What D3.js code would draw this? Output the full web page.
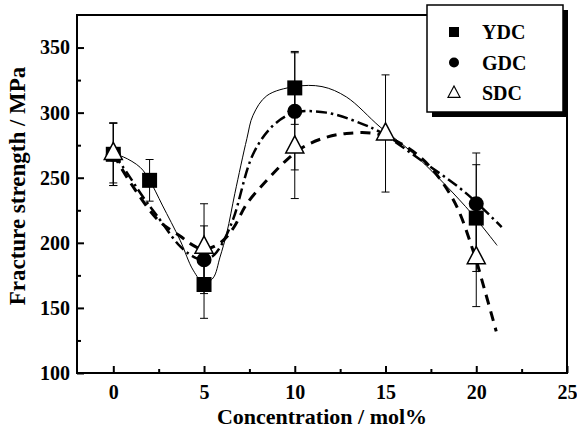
<!DOCTYPE html>
<meta charset="utf-8">
<script src="https://d3js.org/d3.v7.min.js"></script>
<style>
  body { margin: 0; background: #fff; }
  text { font-family: "Liberation Serif", "Times New Roman", serif; font-weight: bold; }
</style>
<div id="chart"></div>
<script>
// measured points (concentration mol%, strength MPa, +/- error)
var ydcX = [0, 2, 5, 10, 20],
    ydcY = [268, 248, 168, 319, 219],
    ydcErr = [24, 16, 26, 28, 41];
var gdcX = [0, 5, 10, 20],
    gdcY = [268, 187, 301, 230],
    gdcErr = [24, 26, 45, 39];
var sdcX = [0, 5, 10, 15, 20],
    sdcY = [269, 197, 274, 284, 189],
    sdcErr = [23, 33, 40, 45, 38];

// fitted guide curves
var ydcFitX = [0, 0.55, 1.48, 2, 2.7, 3.68, 4.4, 5, 5.5, 5.88, 6.26, 6.7, 7.36, 7.7, 8.46, 10, 11.5, 12.85, 14.7, 16.5, 19.4, 21.15],
    ydcFitY = [268, 266, 258, 248, 229, 202, 179, 169, 173, 189, 208, 238, 280, 298, 313, 320, 320, 312, 289, 269, 228, 198];
var gdcFitX = [0, 0.5, 1.65, 2.4, 3.7, 4.6, 5, 5.5, 5.9, 6.6, 7.7, 8.8, 10, 11.75, 13.6, 14.7, 16.9, 19.45, 21.4],
    gdcFitY = [268, 259, 235, 221, 197, 188, 187, 190, 197, 218, 268, 290, 300, 300, 292, 285, 264, 238, 212];
var sdcFitX = [0, 1, 2.5, 3.7, 4.4, 5, 5.9, 6.6, 7.36, 8.46, 9.5, 10.4, 11.5, 12.85, 14.7, 16.9, 18.7, 19.8, 20.5, 21.1],
    sdcFitY = [268, 245, 217, 205, 198, 195, 200, 211, 230, 248, 263, 273, 280, 284, 283, 266, 234, 195, 162, 132];

var xMajor = [0, 5, 10, 15, 20, 25],
    xMinor = [2.5, 7.5, 12.5, 17.5, 22.5],
    yMajor = [100, 150, 200, 250, 300, 350],
    yMinor = [125, 175, 225, 275, 325];

var legendNames = ["YDC", "GDC", "SDC"];

var W = 577, H = 431;
var margin = {top: 15, right: 10, bottom: 58, left: 77},
    width = W - margin.left - margin.right,
    height = H - margin.top - margin.bottom;

var svg = d3.select("#chart").append("svg")
    .attr("width", W).attr("height", H);
var g = svg.append("g")
    .attr("transform", "translate(" + margin.left + "," + margin.top + ")");

var x = d3.scaleLinear().domain([-2, 25]).range([0, width]);
var y = d3.scaleLinear().domain([100, 375]).range([height, 0]);

// axes, ticks pointing inward
g.append("g")
    .attr("transform", "translate(0," + height + ")")
    .call(d3.axisBottom(x).tickValues(xMajor).tickSize(-7).tickPadding(12).tickFormat(d3.format("d")));
g.append("g")
    .attr("transform", "translate(0," + height + ")")
    .call(d3.axisBottom(x).tickValues(xMinor).tickSize(-4).tickFormat(""));
g.append("g")
    .call(d3.axisLeft(y).tickValues(yMajor).tickSize(-7).tickPadding(7).tickFormat(d3.format("d")));
g.append("g")
    .call(d3.axisLeft(y).tickValues(yMinor).tickSize(-4).tickFormat(""));

g.selectAll(".domain").remove();
g.selectAll(".tick line").attr("stroke", "#000").attr("stroke-width", 2);
g.selectAll(".tick text").attr("fill", "#000").style("font-size", "20px")
    .style("font-family", "'Liberation Serif', serif").style("font-weight", "bold");

// frame
g.append("rect")
    .attr("width", width).attr("height", height)
    .attr("fill", "none").attr("stroke", "#000").attr("stroke-width", 2);

// curves
function fit(xs, ys) {
  return xs.map(function(d, i) { return [d, ys[i]]; });
}
var line = d3.line()
    .x(function(d) { return x(d[0]); })
    .y(function(d) { return y(d[1]); })
    .curve(d3.curveCatmullRom.alpha(0.5));

g.append("path").datum(fit(ydcFitX, ydcFitY))
    .attr("d", line).attr("fill", "none").attr("stroke", "#000").attr("stroke-width", 1);
g.append("path").datum(fit(gdcFitX, gdcFitY))
    .attr("d", line).attr("fill", "none").attr("stroke", "#000").attr("stroke-width", 2.5)
    .attr("stroke-dasharray", "11,4,2.5,4");
g.append("path").datum(fit(sdcFitX, sdcFitY))
    .attr("d", line).attr("fill", "none").attr("stroke", "#000").attr("stroke-width", 3)
    .attr("stroke-dasharray", "10,7");

// error bars
function errBars(xs, ys, es) {
  var grp = g.append("g").attr("stroke", "#000").attr("stroke-width", 1);
  xs.forEach(function(d, i) {
    var cx = x(d), y1 = y(ys[i] + es[i]), y2 = y(ys[i] - es[i]);
    grp.append("line").attr("x1", cx).attr("x2", cx).attr("y1", y1).attr("y2", y2);
    grp.append("line").attr("x1", cx - 4).attr("x2", cx + 4).attr("y1", y1).attr("y2", y1);
    grp.append("line").attr("x1", cx - 4).attr("x2", cx + 4).attr("y1", y2).attr("y2", y2);
  });
}
errBars(ydcX, ydcY, ydcErr);
errBars(gdcX, gdcY, gdcErr);
errBars(sdcX, sdcY, sdcErr);

// markers
var sq = d3.symbol().type(d3.symbolSquare).size(225);
var ci = d3.symbol().type(d3.symbolCircle).size(Math.PI * 7.5 * 7.5);
var tri = function(s) {
  var h = s * 0.95;
  return "M0," + (-h * 0.62) + "L" + (s / 2) + "," + (h * 0.38) + "L" + (-s / 2) + "," + (h * 0.38) + "Z";
};

g.selectAll(".ydc").data(ydcX).enter().append("path")
    .attr("transform", function(d, i) { return "translate(" + x(d) + "," + y(ydcY[i]) + ")"; })
    .attr("d", sq).attr("fill", "#000");
g.selectAll(".gdc").data(gdcX).enter().append("path")
    .attr("transform", function(d, i) { return "translate(" + x(d) + "," + y(gdcY[i]) + ")"; })
    .attr("d", ci).attr("fill", "#000");
g.selectAll(".sdc").data(sdcX).enter().append("path")
    .attr("transform", function(d, i) { return "translate(" + x(d) + "," + y(sdcY[i]) + ")"; })
    .attr("d", tri(18)).attr("fill", "#fff").attr("stroke", "#000").attr("stroke-width", 1.5);

// axis titles
svg.append("text")
    .attr("x", margin.left + width / 2).attr("y", 424)
    .attr("text-anchor", "middle").style("font-size", "22px")
    .text("Concentration / mol%");
svg.append("text")
    .attr("transform", "translate(25,186) rotate(-90)")
    .attr("text-anchor", "middle").style("font-size", "23px")
    .text("Fracture strength / MPa");

// legend with drop shadow
var lg = svg.append("g");
lg.append("rect").attr("x", 432).attr("y", 10).attr("width", 136).attr("height", 107).attr("fill", "#000");
lg.append("rect").attr("x", 427).attr("y", 5).attr("width", 136).attr("height", 107)
    .attr("fill", "#fff").attr("stroke", "#000").attr("stroke-width", 1.5);
var legMarks = [d3.symbol().type(d3.symbolSquare).size(100)(), d3.symbol().type(d3.symbolCircle).size(Math.PI * 25)(), tri(12)];
legendNames.forEach(function(name, i) {
  var cy = 32 + i * 30.5;
  lg.append("path").attr("transform", "translate(454," + cy + ")")
      .attr("d", legMarks[i])
      .attr("fill", i < 2 ? "#000" : "#fff").attr("stroke", i < 2 ? "none" : "#000").attr("stroke-width", 1.2);
  lg.append("text").attr("x", 482).attr("y", cy + 7).style("font-size", "20px").text(name);
});
</script>
